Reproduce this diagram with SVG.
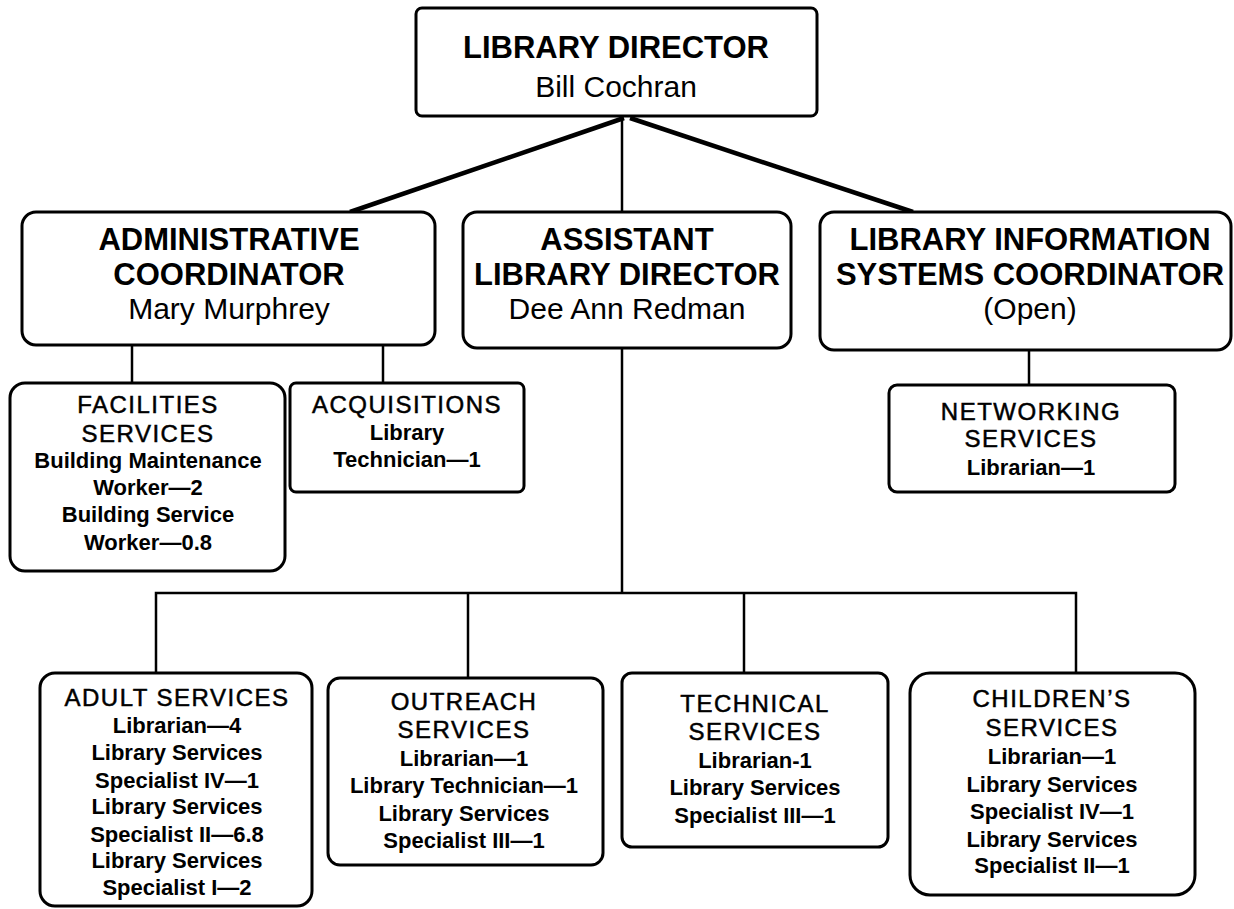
<svg xmlns="http://www.w3.org/2000/svg" width="1234" height="909" viewBox="0 0 1234 909">
<style>
.box{fill:#fff;stroke:#000;stroke-width:3}
.c{fill:none;stroke:#000;stroke-width:2.5}
.cd{fill:none;stroke:#000;stroke-width:4.5}
text{font-family:"Liberation Sans",Arial,sans-serif;text-anchor:middle;fill:#000}
.h1{font-size:31px;font-weight:bold}
.n1{font-size:30px}
.h2{font-size:24px;letter-spacing:1.5px;stroke:#000;stroke-width:0.5}
.b{font-size:22px;font-weight:bold}
</style>
<rect width="1234" height="909" fill="#fff"/>
<g id="connectors">
<line class="cd" x1="624" y1="118" x2="350" y2="212"/>
<line class="cd" x1="630" y1="118" x2="913" y2="212"/>
<line class="c" x1="622" y1="116" x2="622" y2="212"/>
<line class="c" x1="132" y1="345" x2="132" y2="383"/>
<line class="c" x1="383" y1="345" x2="383" y2="383"/>
<line class="c" x1="1029" y1="350" x2="1029" y2="385"/>
<line class="c" x1="622" y1="348" x2="622" y2="593"/>
<polyline class="c" points="156,673 156,593 1076,593 1076,673"/>
<line class="c" x1="468" y1="593" x2="468" y2="678"/>
<line class="c" x1="744" y1="593" x2="744" y2="673"/>
</g>
<g id="director">
<rect class="box" x="416" y="8" width="401" height="108" rx="6"/>
<text class="h1" x="616" y="58">LIBRARY DIRECTOR</text>
<text class="n1" x="616" y="97">Bill Cochran</text>
</g>
<g id="admin">
<rect class="box" x="22" y="212" width="413" height="133" rx="14"/>
<text class="h1" x="229" y="250">ADMINISTRATIVE</text>
<text class="h1" x="229" y="285">COORDINATOR</text>
<text class="n1" x="229" y="319">Mary Murphrey</text>
</g>
<g id="assistant">
<rect class="box" x="463" y="212" width="328" height="136" rx="14"/>
<text class="h1" x="627" y="250">ASSISTANT</text>
<text class="h1" x="627" y="285">LIBRARY DIRECTOR</text>
<text class="n1" x="627" y="319">Dee Ann Redman</text>
</g>
<g id="lis">
<rect class="box" x="820" y="212" width="411" height="138" rx="14"/>
<text class="h1" x="1030" y="250">LIBRARY INFORMATION</text>
<text class="h1" x="1030" y="285">SYSTEMS COORDINATOR</text>
<text class="n1" x="1030" y="319">(Open)</text>
</g>
<g id="facilities">
<rect class="box" x="10" y="383" width="275" height="188" rx="15"/>
<text class="h2" x="148" y="413">FACILITIES</text>
<text class="h2" x="148" y="442">SERVICES</text>
<text class="b" x="148" y="468">Building Maintenance</text>
<text class="b" x="148" y="495">Worker—2</text>
<text class="b" x="148" y="522">Building Service</text>
<text class="b" x="148" y="550">Worker—0.8</text>
</g>
<g id="acquisitions">
<rect class="box" x="290" y="383" width="234" height="109" rx="6"/>
<text class="h2" x="407" y="413">ACQUISITIONS</text>
<text class="b" x="407" y="440">Library</text>
<text class="b" x="407" y="467">Technician—1</text>
</g>
<g id="networking">
<rect class="box" x="889" y="385" width="286" height="107" rx="8"/>
<text class="h2" x="1031" y="420">NETWORKING</text>
<text class="h2" x="1031" y="447">SERVICES</text>
<text class="b" x="1031" y="475">Librarian—1</text>
</g>
<g id="adult">
<rect class="box" x="40" y="673" width="272" height="233" rx="15"/>
<text class="h2" x="177" y="706">ADULT SERVICES</text>
<text class="b" x="177" y="733">Librarian—4</text>
<text class="b" x="177" y="760">Library Services</text>
<text class="b" x="177" y="788">Specialist IV—1</text>
<text class="b" x="177" y="814">Library Services</text>
<text class="b" x="177" y="842">Specialist II—6.8</text>
<text class="b" x="177" y="868">Library Services</text>
<text class="b" x="177" y="895">Specialist I—2</text>
</g>
<g id="outreach">
<rect class="box" x="328" y="678" width="275" height="187" rx="12"/>
<text class="h2" x="464" y="710">OUTREACH</text>
<text class="h2" x="464" y="738">SERVICES</text>
<text class="b" x="464" y="766">Librarian—1</text>
<text class="b" x="464" y="793">Library Technician—1</text>
<text class="b" x="464" y="821">Library Services</text>
<text class="b" x="464" y="848">Specialist III—1</text>
</g>
<g id="technical">
<rect class="box" x="622" y="673" width="266" height="174" rx="10"/>
<text class="h2" x="755" y="712">TECHNICAL</text>
<text class="h2" x="755" y="740">SERVICES</text>
<text class="b" x="755" y="768">Librarian-1</text>
<text class="b" x="755" y="795">Library Services</text>
<text class="b" x="755" y="823">Specialist III—1</text>
</g>
<g id="childrens">
<rect class="box" x="910" y="673" width="285" height="222" rx="20"/>
<text class="h2" x="1052" y="707">CHILDREN’S</text>
<text class="h2" x="1052" y="736">SERVICES</text>
<text class="b" x="1052" y="764">Librarian—1</text>
<text class="b" x="1052" y="792">Library Services</text>
<text class="b" x="1052" y="819">Specialist IV—1</text>
<text class="b" x="1052" y="847">Library Services</text>
<text class="b" x="1052" y="873">Specialist II—1</text>
</g>
</svg>
